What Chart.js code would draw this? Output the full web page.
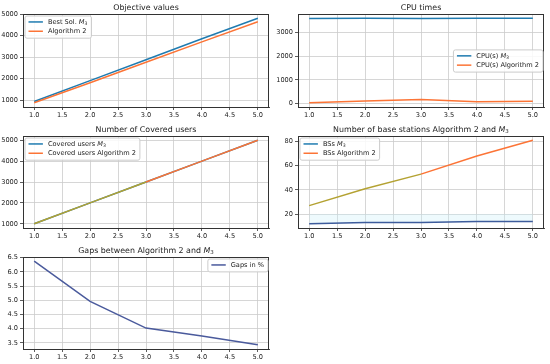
<!DOCTYPE html>
<html>
<head>
<meta charset="utf-8">
<script src="https://cdn.jsdelivr.net/npm/chart.js@4"></script>
<style>
  body { margin: 0; background: #fff; }
  #wrap { position: relative; width: 550px; height: 364px; }
  #wrap canvas { position: absolute; }
</style>
</head>
<body>
<div id="wrap">
  <canvas id="objChart"></canvas>
  <canvas id="cpuChart"></canvas>
  <canvas id="coveredChart"></canvas>
  <canvas id="bsChart"></canvas>
  <canvas id="gapChart"></canvas>
</div>
<script>
// data
const xs = [1, 2, 3, 4, 5];
const xTicks = [1.0, 1.5, 2.0, 2.5, 3.0, 3.5, 4.0, 4.5, 5.0];

const objM3 = [945, 1910, 2880, 3850, 4804];
const objAlg2 = [884, 1815, 2765, 3707, 4641];
const objTicks = [1000, 2000, 3000, 4000, 5000];

const cpuM3 = [3605, 3609, 3606, 3611, 3614];
const cpuAlg2 = [35, 110, 175, 75, 95];
const cpuTicks = [0, 1000, 2000, 3000];

const coveredM3 = [1000, 2000, 3000, 4000, 5000];
const coveredAlg2 = [1000, 2000, 3000, 4000, 5000];
const coveredTicks = [1000, 2000, 3000, 4000, 5000];

const bsM3 = [12, 13, 13, 14, 14];
const bsAlg2 = [27, 41, 53, 68, 81];
const bsTicks = [20, 40, 60, 80];

const gaps = [6.38, 4.96, 4.02, 3.74, 3.43];
const gapTicks = [3.5, 4.0, 4.5, 5.0, 5.5, 6.0, 6.5];

const FONT = '"DejaVu Sans", sans-serif';
const BLUE = '#1f7bb0';
const ORANGE = '#fc7436';
const OLIVE = '#b4a232';

// split "$M_3$" into italic M + subscript 3
function richParts(s) {
    const out = [];
    s.split('$M_3$').forEach((t, i, arr) => {
        if (t) out.push({ t: t });
        if (i < arr.length - 1) {
            out.push({ t: 'M', it: true });
            out.push({ t: '3', sub: true });
        }
    });
    return out;
}

function segFont(p, size) {
    if (p.sub) return (size * 0.7) + 'px ' + FONT;
    return (p.it ? 'italic ' : '') + size + 'px ' + FONT;
}

function richWidth(ctx, s, size) {
    let w = 0;
    richParts(s).forEach(p => { ctx.font = segFont(p, size); w += ctx.measureText(p.t).width; });
    return w;
}

function drawRich(ctx, s, x, y, size) {
    ctx.textBaseline = 'middle';
    ctx.textAlign = 'left';
    ctx.fillStyle = '#222';
    richParts(s).forEach(p => {
        ctx.font = segFont(p, size);
        ctx.fillText(p.t, x, p.sub ? y + size * 0.3 : y);
        x += ctx.measureText(p.t).width;
    });
}

function axisRange(values) {
    const lo = Math.min(...values), hi = Math.max(...values);
    const m = (hi - lo) * 0.05;
    return [lo - m, hi + m];
}

const decor = {
    id: 'decor',
    afterDatasetsDraw(chart) {
        const spec = chart.config.options.plugins.decor;
        const ctx = chart.ctx;
        const a = chart.chartArea;
        ctx.save();
        // frame (all four spines)
        ctx.strokeStyle = '#333';
        ctx.lineWidth = 1;
        ctx.strokeRect(a.left + 0.5, a.top + 0.5, a.right - a.left - 1, a.bottom - a.top);

        // title
        const tSize = 7.9;
        const tw = richWidth(ctx, spec.title, tSize);
        drawRich(ctx, spec.title, (a.left + a.right) / 2 - tw / 2, a.top - 6.5, tSize);

        // legend box
        const size = 6.6, rowH = 9.3, padV = 1.8, padL = 4, padR = 3.5, hLen = 14.4, gap = 5;
        const items = spec.legend;
        const maxW = Math.max(...items.map(it => richWidth(ctx, it.label, size)));
        const bw = padL + hLen + gap + maxW + padR;
        const bh = padV * 2 + rowH * items.length;
        let bx, by;
        if (spec.loc === 'ul') { bx = a.left + 1.5; by = a.top + 1.5; }
        else if (spec.loc === 'ur') { bx = a.right - 1.5 - bw; by = a.top + 1.5; }
        else { bx = a.right - 1.5 - bw; by = (a.top + a.bottom) / 2 - bh / 2; }
        ctx.beginPath();
        ctx.roundRect(bx + 0.5, by + 0.5, bw, bh, 2);
        ctx.fillStyle = 'rgba(255,255,255,0.85)';
        ctx.fill();
        ctx.strokeStyle = '#cccccc';
        ctx.lineWidth = 1;
        ctx.stroke();
        items.forEach((it, i) => {
            const cy = by + padV + rowH * (i + 0.5);
            ctx.beginPath();
            ctx.moveTo(bx + padL, cy);
            ctx.lineTo(bx + padL + hLen, cy);
            ctx.strokeStyle = it.color;
            ctx.lineWidth = 1.5;
            ctx.stroke();
            drawRich(ctx, it.label, bx + padL + hLen + gap, cy, size);
        });
        ctx.restore();
    }
};

function makeChart(id, spec) {
    const el = document.getElementById(id);
    const cx = spec.box.left < 275 ? 0 : 275;
    const cy = spec.rowTop;
    const W = 275, H = spec.height;
    el.width = W; el.height = H;
    el.style.width = W + 'px'; el.style.height = H + 'px';
    el.style.left = cx + 'px'; el.style.top = cy + 'px';

    const yW = spec.box.left - cx;
    const padTop = spec.box.top - cy;
    const padRight = cx + W - spec.box.right;
    const xH = cy + H - spec.box.bottom;
    const [ymin, ymax] = axisRange(spec.datasets.flatMap(d => d.values));

    const tickFont = { family: FONT, size: 6.6 };
    const grid = { color: '#cccccc', lineWidth: 0.8, tickColor: '#333', tickLength: 3 };
    const n = spec.datasets.length;

    return new Chart(el.getContext('2d'), {
        type: 'line',
        data: {
            // later series drawn on top, like matplotlib
            datasets: spec.datasets.map((d, i) => Object.assign({
                data: xs.map((x, k) => ({ x: x, y: d.values[k] })),
                order: n - i,
                borderWidth: 1.5,
                pointRadius: 0,
                tension: 0,
                fill: false
            }, d.style))
        },
        options: {
            responsive: false,
            animation: false,
            devicePixelRatio: 1,
            layout: { padding: { top: padTop, right: padRight, left: 0, bottom: 0 } },
            plugins: {
                legend: { display: false },
                tooltip: { enabled: false },
                decor: { title: spec.title, legend: spec.legend, loc: spec.loc }
            },
            scales: {
                x: {
                    type: 'linear', min: 0.8, max: 5.2,
                    afterBuildTicks: s => { s.ticks = xTicks.map(v => ({ value: v })); },
                    afterFit: s => { s.height = xH; },
                    grid: grid,
                    border: { color: '#333', width: 1 },
                    ticks: { color: '#222', font: tickFont, padding: 1, maxRotation: 0, autoSkip: false,
                             callback: v => v.toFixed(1) }
                },
                y: {
                    type: 'linear', min: ymin, max: ymax,
                    afterBuildTicks: s => { s.ticks = spec.ticks.map(v => ({ value: v })); },
                    afterFit: s => { s.width = yW; },
                    grid: grid,
                    border: { color: '#333', width: 1 },
                    ticks: { color: '#222', font: tickFont, padding: 2, autoSkip: false,
                             callback: spec.fmt || (v => String(v)) }
                }
            }
        },
        plugins: [decor]
    });
}

makeChart('objChart', {
    box: { left: 23, top: 14, right: 269, bottom: 107 }, rowTop: 0, height: 121,
    title: 'Objective values', ticks: objTicks, loc: 'ul',
    datasets: [
        { values: objM3, style: { borderColor: BLUE } },
        { values: objAlg2, style: { borderColor: ORANGE } }
    ],
    legend: [{ label: 'Best Sol. $M_3$', color: BLUE }, { label: 'Algorithm 2', color: ORANGE }]
});

makeChart('cpuChart', {
    box: { left: 298, top: 14, right: 544, bottom: 107 }, rowTop: 0, height: 121,
    title: 'CPU times', ticks: cpuTicks, loc: 'cr',
    datasets: [
        { values: cpuM3, style: { borderColor: BLUE } },
        { values: cpuAlg2, style: { borderColor: ORANGE } }
    ],
    legend: [{ label: 'CPU(s) $M_3$', color: BLUE }, { label: 'CPU(s) Algorithm 2', color: ORANGE }]
});

makeChart('coveredChart', {
    box: { left: 23, top: 136, right: 269, bottom: 228 }, rowTop: 121, height: 121,
    title: 'Number of Covered users', ticks: coveredTicks, loc: 'ul',
    datasets: [
        { values: coveredM3, style: { borderColor: BLUE } },
        { values: coveredAlg2, style: { borderColor: OLIVE,
            segment: { borderColor: c => (c.p0.parsed.x < 3 ? OLIVE : ORANGE) } } }
    ],
    legend: [{ label: 'Covered users $M_3$', color: BLUE }, { label: 'Covered users Algorithm 2', color: ORANGE }]
});

makeChart('bsChart', {
    box: { left: 298, top: 136, right: 544, bottom: 228 }, rowTop: 121, height: 121,
    title: 'Number of base stations Algorithm 2 and $M_3$', ticks: bsTicks, loc: 'ul',
    datasets: [
        { values: bsM3, style: { borderColor: '#3d5c9c', fill: { value: 20 }, backgroundColor: 'rgba(200,240,250,0.3)' } },
        { values: bsAlg2, style: { borderColor: ORANGE,
            segment: { borderColor: c => (c.p0.parsed.x < 3 ? OLIVE : ORANGE) } } }
    ],
    legend: [{ label: 'BSs $M_3$', color: BLUE }, { label: 'BSs Algorithm 2', color: ORANGE }]
});

makeChart('gapChart', {
    box: { left: 23, top: 257, right: 269, bottom: 349 }, rowTop: 242, height: 122,
    title: 'Gaps between Algorithm 2 and $M_3$', ticks: gapTicks, loc: 'ur',
    fmt: v => v.toFixed(1),
    datasets: [
        { values: gaps, style: { borderColor: '#4a5a9c' } }
    ],
    legend: [{ label: 'Gaps in %', color: '#4a5a9c' }]
});
</script>
</body>
</html>
